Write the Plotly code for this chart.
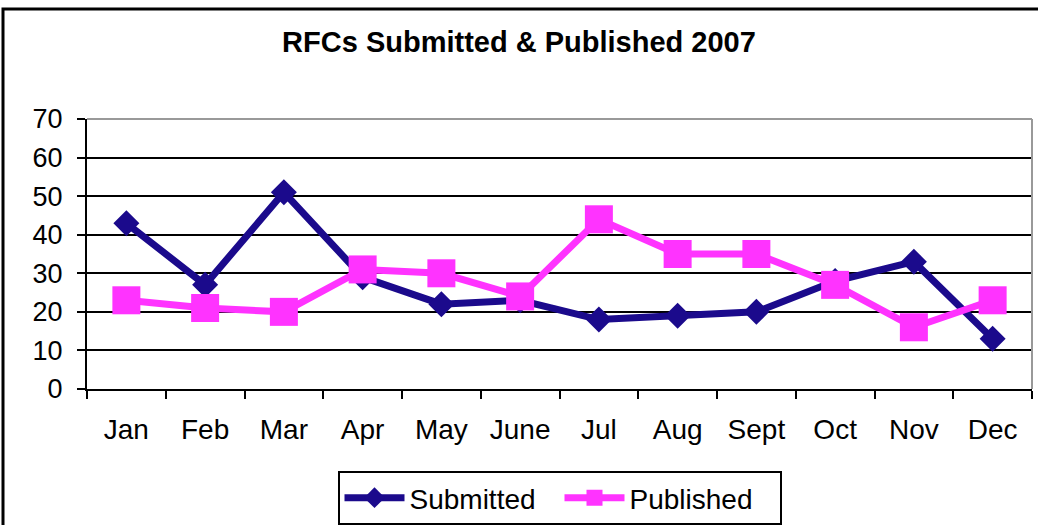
import plotly.graph_objects as go

months = ["Jan", "Feb", "Mar", "Apr", "May", "June", "Jul", "Aug", "Sept", "Oct", "Nov", "Dec"]
submitted = [43, 27, 51, 29, 22, 23, 18, 19, 20, 28, 33, 13]
published = [23, 21, 20, 31, 30, 24, 44, 35, 35, 27, 16, 23]
y_ticks = [0, 10, 20, 30, 40, 50, 60, 70]

FONT = "Liberation Sans, Arial, sans-serif"

fig = go.Figure()
fig.add_trace(go.Scatter(
    x=months, y=submitted, name="Submitted", mode="lines+markers",
    line=dict(color="#1B0A8C", width=7),
    marker=dict(symbol="diamond", size=20, color="#1B0A8C"),
))
fig.add_trace(go.Scatter(
    x=months, y=published, name="Published", mode="lines+markers",
    line=dict(color="#FF33FF", width=7),
    marker=dict(symbol="square", size=28, color="#FF33FF"),
))

fig.update_layout(
    width=1038, height=525,
    margin=dict(l=87, r=6, t=119, b=136, autoexpand=False),
    paper_bgcolor="white", plot_bgcolor="white",
    font=dict(family=FONT, color="black", size=28),
    title=dict(text="<b>RFCs Submitted &amp; Published 2007</b>", x=0.5, xanchor="center",
               y=1 - 42 / 525, yref="container", yanchor="middle",
               font=dict(family=FONT, size=29, color="black")),
    showlegend=True,
    legend=dict(orientation="h", x=0.5, xanchor="center", y=-(471 - 389) / 270, yanchor="top",
                bordercolor="black", borderwidth=2, bgcolor="white",
                font=dict(family=FONT, size=28, color="black"),
                itemwidth=60, tracegroupgap=0, entrywidth=145, entrywidthmode="pixels"),
)

fig.update_xaxes(
    type="category", range=[-0.5, len(months) - 0.5],
    tickson="boundaries", ticks="outside", ticklen=8, tickwidth=2,
    tickcolor="black", showline=True, linecolor="black", linewidth=2,
    showgrid=False, ticklabelstandoff=14,
    tickfont=dict(family=FONT, size=28, color="black"),
)
fig.update_yaxes(
    range=[0, 70], tickvals=y_ticks, ticks="outside", ticklen=8, tickwidth=2,
    tickcolor="black", showline=True, linecolor="black", linewidth=2,
    showgrid=True, gridcolor="black", gridwidth=2, zeroline=False,
    ticklabelstandoff=9,
    tickfont=dict(family=FONT, size=27, color="black"),
)

# gray plot-area border (top and right)
fig.add_shape(type="line", xref="paper", yref="paper", x0=0, x1=1, y0=1, y1=1,
              line=dict(color="#999999", width=2), layer="above")
fig.add_shape(type="line", xref="paper", yref="paper", x0=1, x1=1, y0=0, y1=1,
              line=dict(color="#999999", width=2), layer="above")
# outer chart frame
fig.add_shape(type="rect", xref="paper", yref="paper",
              x0=(3 - 87) / 945, x1=1.2, y0=-0.8, y1=(389 - 9) / 270,
              line=dict(color="black", width=3), layer="below")

fig.write_html("out.html", config={"displayModeBar": False},
               post_script="document.body.style.margin='0';")
